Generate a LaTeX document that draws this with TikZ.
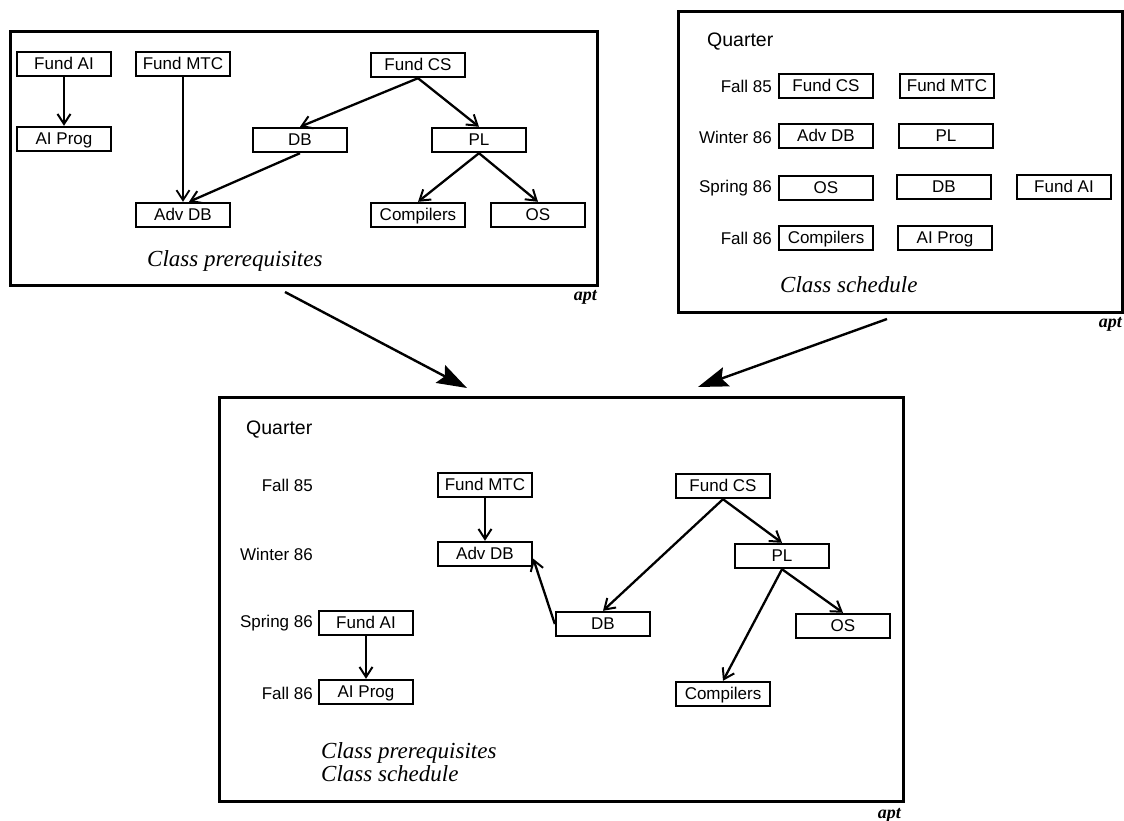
\documentclass[tikz,border=0pt]{standalone}
\usepackage{fontspec}
\setmainfont{Liberation Serif}
\newfontfamily\labfont{Liberation Sans}
\usetikzlibrary{arrows.meta,calc}

\tikzset{
  panel/.style={draw, line width=3pt},
  cls/.style={draw, line width=2.4pt, minimum width=94pt, minimum height=24pt,
    inner sep=0pt, text height=12.5pt, text depth=1pt,
    font=\labfont\fontsize{17}{19}\selectfont},
  term/.style={inner sep=0pt, anchor=east, font=\labfont\fontsize{17}{19}\selectfont},
  qhead/.style={inner sep=0pt, anchor=west, font=\labfont\fontsize{19.5}{21}\selectfont},
  caption/.style={inner sep=0pt, anchor=base west, font=\itshape\fontsize{23}{25}\selectfont},
  tag/.style={inner sep=0pt, anchor=base east, font=\bfseries\itshape\fontsize{18}{20}\selectfont},
  prereq/.style={line width=2.3pt, -{Straight Barb[length=10pt,width=13pt,line width=2pt]}},
  thinprereq/.style={line width=1.4pt, -{Straight Barb[length=10pt,width=13pt,line width=1.8pt]}},
  combine/.style={line width=2.4pt, -{Stealth[length=30pt,width=20pt,inset=5pt]}}
}

\begin{document}
\begin{tikzpicture}[x=1pt,y=-1pt]
\useasboundingbox (0,0) rectangle (1124,821);

% ---------- prerequisites panel ----------
\draw[panel] (10,32) rectangle (597,285);
\node[cls] (pFAI)  at (64,64)   {Fund AI};
\node[cls] (pAIP)  at (64,139)  {AI Prog};
\node[cls] (pMTC)  at (183,64)  {Fund MTC};
\node[cls] (pFCS)  at (418,65)  {Fund CS};
\node[cls] (pDB)   at (300,140) {DB};
\node[cls] (pPL)   at (479,140) {PL};
\node[cls] (pADB)  at (183,215) {Adv DB};
\node[cls] (pCOMP) at (418,215) {Compilers};
\node[cls] (pOS)   at (538,215) {OS};
\draw[prereq] (pFAI) -- (pAIP);
\draw[thinprereq] (pMTC) -- (pADB);
\draw[prereq] (pFCS.south) -- (pDB.north);
\draw[prereq] (pFCS.south) -- (pPL.north);
\draw[prereq] (pDB.south) -- ([xshift=6pt]pADB.north);
\draw[prereq] (pPL.south) -- (pCOMP.north);
\draw[prereq] (pPL.south) -- (pOS.north);
\node[caption] (pcap) at (147,266) {Class prerequisites};
\node[tag] (ptag) at (597,300) {apt};

% ---------- schedule panel ----------
\draw[panel] (678,12) rectangle (1122,312);
\node[qhead] (sq) at (707,42) {Quarter};
\node[term] (s1) at (772,86)  {Fall 85};
\node[term] (s2) at (772,137) {Winter 86};
\node[term] (s3) at (772,188) {Spring 86};
\node[term] (s4) at (772,238) {Fall 86};
\node[cls] (sFCS)  at (826,86)   {Fund CS};
\node[cls] (sMTC)  at (947,86)   {Fund MTC};
\node[cls] (sADB)  at (826,136)  {Adv DB};
\node[cls] (sPL)   at (946,136)  {PL};
\node[cls] (sOS)   at (826,188)  {OS};
\node[cls] (sDB)   at (944,187)  {DB};
\node[cls] (sFAI)  at (1064,187) {Fund AI};
\node[cls] (sCOMP) at (826,238)  {Compilers};
\node[cls] (sAIP)  at (945,238)  {AI Prog};
\node[caption] (scap) at (780,292) {Class schedule};
\node[tag] (stag) at (1122,327) {apt};

% ---------- combined panel ----------
\draw[panel] (219,397) rectangle (903,801);
\node[qhead] (cq) at (246,430) {Quarter};
\node[term] (c1) at (313,485) {Fall 85};
\node[term] (c2) at (313,554) {Winter 86};
\node[term] (c3) at (313,623) {Spring 86};
\node[term] (c4) at (313,693) {Fall 86};
\node[cls] (cMTC)  at (485,485) {Fund MTC};
\node[cls] (cADB)  at (485,554) {Adv DB};
\node[cls] (cFCS)  at (723,486) {Fund CS};
\node[cls] (cPL)   at (782,556) {PL};
\node[cls] (cFAI)  at (366,623) {Fund AI};
\node[cls] (cAIP)  at (366,692) {AI Prog};
\node[cls] (cDB)   at (603,624) {DB};
\node[cls] (cOS)   at (843,626) {OS};
\node[cls] (cCOMP) at (723,694) {Compilers};
\draw[prereq] (cMTC) -- (cADB);
\draw[prereq] (cFAI) -- (cAIP);
\draw[prereq] (cDB.west) -- ($(cADB.east)!0.35!(cADB.south east)$);
\draw[prereq] (cFCS.south) -- (cDB.north);
\draw[prereq] (cFCS.south) -- (cPL.north);
\draw[prereq] (cPL.south) -- (cOS.north);
\draw[prereq] (cPL.south) -- (cCOMP.north);
\node[caption] (ccap1) at (321,758) {Class prerequisites};
\node[caption] (ccap2) at (321,781) {Class schedule};
\node[tag] (ctag) at (901,818) {apt};

% ---------- merge arrows ----------
\coordinate (fromP) at (285,292);
\coordinate (toP)   at (467,388);
\coordinate (fromS) at (887,319);
\coordinate (toS)   at (698,387);
\draw[combine] (fromP) -- (toP);
\draw[combine] (fromS) -- (toS);
\end{tikzpicture}
\end{document}
